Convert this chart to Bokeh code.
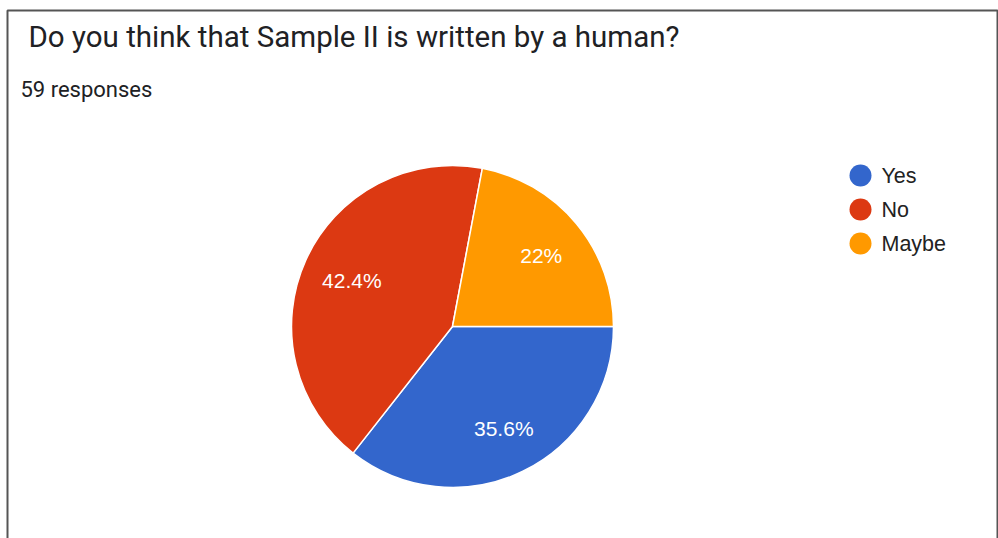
import math
from bokeh.plotting import figure
from bokeh.models import Range1d, ColumnDataSource
from bokeh.core.properties import value
from bokeh.embed import file_html
from bokeh.resources import INLINE

# ---- data ----
title = "Do you think that Sample II is written by a human?"
subtitle = "59 responses"
categories = ["Yes", "No", "Maybe"]
counts = [21, 25, 13]
colors = ["#3366cc", "#dc3912", "#ff9900"]

W, H = 998, 538
p = figure(width=W, height=H, x_range=Range1d(0, W), y_range=Range1d(0, H),
           output_backend="svg", toolbar_location=None, min_border=0,
           outline_line_color=None, background_fill_color="white",
           border_fill_color="white")
p.axis.visible = False
p.grid.visible = False

def sy(y):  # screen y -> data y
    return H - y

# frame border
p.line(x=[7, 7, 997, 997], y=[0, sy(10), sy(10), 0], line_color="#555555", line_width=2)

# pie
total = sum(counts)
fracs = [c / total for c in counts]
cx, cy, r = 452, sy(326), 161
starts, ends, mids = [], [], []
acc = 0.0
for f in fracs:
    s = -acc * 2 * math.pi
    e = -(acc + f) * 2 * math.pi
    starts.append(s); ends.append(e); mids.append((s + e) / 2)
    acc += f
src = ColumnDataSource(dict(start=starts, end=ends, color=colors))
p.wedge(x=cx, y=cy, radius=r, start_angle="start", end_angle="end", direction="clock",
        fill_color="color", line_color="white", line_width=1.5, source=src)

labels = [f"{round(f*100, 1):g}%" for f in fracs]
lr = 0.70 * r
lx = [cx + lr * math.cos(m) + 2 for m in mids]
ly = [cy + lr * math.sin(m) - 1 for m in mids]
p.text(x=lx, y=ly, text=labels, text_color="white", text_align="center",
       text_baseline="middle", text_font=value("Liberation Sans"), text_font_size="21px")

# legend
leg_y = [sy(175) - i * 34 for i in range(len(categories))]
p.scatter(x=[860] * len(categories), y=leg_y, size=22, color=colors, line_color=None)
p.text(x=[881] * len(categories), y=leg_y, text=categories, text_color="#222222",
       text_align="left", text_baseline="middle", text_font=value("Liberation Sans"),
       text_font_size="21.5px")

# titles
p.text(x=[28], y=[sy(36)], text=[title], text_color="#202124", text_align="left",
       text_baseline="alphabetic", text_font=value("Roboto"), text_font_size="29.5px")
p.text(x=[20], y=[sy(89)], text=[subtitle], text_color="#202124", text_align="left",
       text_baseline="alphabetic", text_font=value("Roboto"), text_font_size="22px")

open("out.html", "w").write(file_html(p, INLINE))
